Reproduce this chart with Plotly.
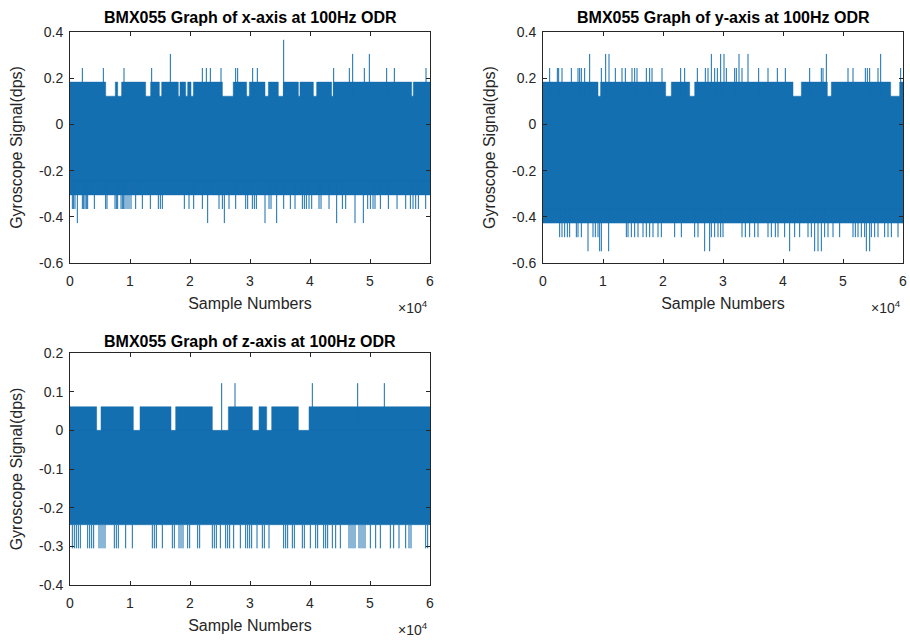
import plotly.graph_objects as go

N_SAMPLES = 60000
BLUE = "rgb(20,111,176)"
AX = "#262626"
FONT = "Liberation Sans, Arial, Helvetica, sans-serif"

titles = ["BMX055 Graph of x-axis at 100Hz ODR",
          "BMX055 Graph of y-axis at 100Hz ODR",
          "BMX055 Graph of z-axis at 100Hz ODR"]
x_label = "Sample Numbers"
y_label = "Gyroscope Signal(dps)"
x_tick_vals = [0, 10000, 20000, 30000, 40000, 50000, 60000]
x_tick_text = ["0", "1", "2", "3", "4", "5", "6"]
xy_tick_vals = [-0.6, -0.4, -0.2, 0, 0.2, 0.4]
xy_tick_text = ["-0.6", "-0.4", "-0.2", "0", "0.2", "0.4"]
z_tick_vals = [-0.4, -0.3, -0.2, -0.1, 0, 0.1, 0.2]
z_tick_text = ["-0.4", "-0.3", "-0.2", "-0.1", "0", "0.1", "0.2"]

# ---------------- x-axis gyro data (dps) ----------------
x_core = [-0.2441, 0.1221]
x_top_fringe = 0.1831
x_top_gaps = [[5950, 7550], [7950, 8600], [12610, 13440], [14890, 15280], [18050, 18330],
              [19280, 19610], [20170, 20560], [25400, 27200], [29440, 29890], [32500, 33060],
              [34720, 35550], [38060, 38330], [40560, 41110], [43610, 43900], [56940, 57220]]
x_bottom_fringe = -0.3052
x_bottom_gaps = []
x_up_0244 = [2056, 5556, 9000, 13611, 22056, 22722, 23389, 25167, 27611, 27944, 30444,
             31222, 43944, 46556, 49056, 52778, 54056, 59333]
x_up_0305 = [16722, 47111, 49889]
x_up_0366 = [35611]
x_down_0366 = [389, 611, 834, 2056, 2278, 2500, 2723, 2945, 4056, 5945, 6167, 7501, 7723,
               7945, 8501, 8723, 8945, 9168, 9501, 9835, 10168, 10945, 12056, 13390, 14723,
               15057, 15391, 19057, 19835, 20613, 22058, 24835, 25391, 26502, 27614, 29281,
               29614, 30392, 30725, 31058, 33170, 33503, 35614, 36725, 37503, 38726, 39059,
               39392, 39837, 40281, 41503, 41837, 43170, 45393, 45949, 49616, 50061, 50505,
               50839, 51728, 53061, 54506, 55950, 56728, 57172, 57617, 58061, 59283]
x_down_0427 = [1222, 22944, 25722, 32500, 34444, 44444, 47500, 48889]

# ---------------- y-axis gyro data (dps) ----------------
y_core = [-0.3662, 0.1221]
y_top_fringe = 0.1831
y_top_gaps = [[9170, 9610], [20445, 21389], [24445, 25278], [41667, 43056],
              [47390, 48056], [57945, 59445]]
y_bottom_fringe = -0.4272
y_bottom_gaps = []
y_up_0244 = [1111, 2389, 2611, 3167, 4723, 5834, 6111, 6389, 6945, 9723, 12056, 13167,
             13723, 14834, 15278, 15667, 17223, 17779, 18167, 19834, 22945, 23612, 25723,
             27056, 27500, 28612, 29056, 30556, 31945, 32223, 33167, 35945, 37501, 39056,
             40390, 44445, 46390, 46668, 50834, 51668, 53723, 54056, 54445, 55834, 59612]
y_up_0305 = [7778, 10445, 11001, 28056, 29612, 30167, 32667, 34167, 47223, 56279]
y_down_0488 = [2778, 3167, 3611, 4056, 4445, 5556, 5834, 6389, 8334, 8723, 9167, 13890,
               14167, 14723, 15278, 15834, 16667, 17223, 17779, 18334, 19167, 19723, 21945,
               23056, 25278, 25834, 28056, 28612, 29167, 29612, 30001, 33167, 33723, 34445,
               35278, 35834, 37501, 38056, 38723, 39167, 40278, 41945, 42779, 44167, 44723,
               46945, 47501, 48334, 49445, 51668, 52056, 52501, 53056, 53612, 54723, 55279,
               55834, 56945, 57501, 58056, 59168]
y_down_0549 = [7500, 9445, 9723, 10945, 26945, 27779, 41112, 45279, 45834, 46390, 53890, 54445]

# ---------------- z-axis gyro data (dps) ----------------
z_core = [-0.2441, 0.0]
z_top_fringe = 0.0610
z_top_gaps = [[4445, 5167], [10557, 11668], [16835, 17613], [23725, 26391], [30392, 31503],
              [32780, 33614], [38059, 39837]]
z_up_0122 = [25278, 27500, 40389, 47944, 52389]
z_down_0305 = [389, 722, 1056, 1389, 1722, 2945, 3278, 3611, 3945, 4834, 5167, 5500, 5834,
               7389, 7723, 8056, 9278, 10389, 13723, 14056, 14389, 15389, 17056, 17389, 18167,
               18500, 18834, 19611, 19945, 21278, 21611, 23722, 24056, 24389, 25056, 25945,
               26278, 26611, 27278, 28389, 29278, 29611, 29945, 30278, 31167, 32056, 32389,
               33167, 35611, 35945, 36278, 37056, 37389, 38723, 39056, 40056, 40945, 41278,
               42278, 42611, 42945, 43723, 44278, 45056, 46500, 46834, 47167, 47500, 48167,
               48500, 48834, 49167, 50056, 50945, 51722, 53389, 53945, 54834, 55945, 56500,
               56834, 59278, 59611]


def band_polys(lo, hi, gaps):
    segs, start = [], 1
    for g0, g1 in sorted(gaps):
        if g0 > start:
            segs.append((start, g0))
        start = max(start, g1)
    if start < N_SAMPLES:
        segs.append((start, N_SAMPLES))
    xs, ys = [], []
    for a, b in segs:
        xs += [a, b, b, a, a, None]
        ys += [lo, lo, hi, hi, lo, None]
    return xs, ys


def spike_lines(base, groups):
    xs, ys = [], []
    for positions, value in groups:
        for p in positions:
            xs += [p, p, None]
            ys += [base, value, None]
    return xs, ys


fig = go.Figure()


def add_panel(idx, core, top_fringe, top_gaps, bottom_fringe, bottom_gaps, up_groups, down_groups):
    xa = "x" if idx == 1 else f"x{idx}"
    ya = "y" if idx == 1 else f"y{idx}"
    polys_x, polys_y = band_polys(core[0], core[1], [])
    fx, fy = band_polys(core[1], top_fringe, top_gaps)
    polys_x += fx
    polys_y += fy
    if bottom_fringe is not None:
        bx, by = band_polys(bottom_fringe, core[0], bottom_gaps)
        polys_x += bx
        polys_y += by
    fig.add_trace(go.Scatter(x=polys_x, y=polys_y, mode="lines", fill="toself",
                             fillcolor=BLUE, line=dict(color=BLUE, width=0.5),
                             xaxis=xa, yaxis=ya, hoverinfo="skip", showlegend=False))
    ux, uy = spike_lines(core[1], up_groups)
    dx, dy = spike_lines(core[0], down_groups)
    fig.add_trace(go.Scatter(x=ux + dx, y=uy + dy, mode="lines",
                             line=dict(color=BLUE, width=1),
                             xaxis=xa, yaxis=ya, hoverinfo="skip", showlegend=False))


add_panel(1, x_core, x_top_fringe, x_top_gaps, x_bottom_fringe, x_bottom_gaps,
          [(x_up_0244, 0.2441), (x_up_0305, 0.3052), (x_up_0366, 0.3662)],
          [(x_down_0366, -0.3662), (x_down_0427, -0.4272)])
add_panel(2, y_core, y_top_fringe, y_top_gaps, y_bottom_fringe, y_bottom_gaps,
          [(y_up_0244, 0.2441), (y_up_0305, 0.3052)],
          [(y_down_0488, -0.4883), (y_down_0549, -0.5493)])
add_panel(3, z_core, z_top_fringe, z_top_gaps, None, [],
          [(z_up_0122, 0.1221)],
          [(z_down_0305, -0.3052)])

W, H = 910, 644
L1, R1, L2, R2 = 70, 430, 543, 903
T1, B1, T3, B3 = 32, 263, 353, 585

def px(v):
    return v / W

def py(v):
    return (H - v) / H

common = dict(showline=True, linecolor=AX, linewidth=1, mirror="ticks", ticks="inside",
              ticklen=4, tickwidth=1, tickcolor=AX, showgrid=False, zeroline=False,
              automargin=False, tickfont=dict(family=FONT, size=14, color=AX))

xcommon = dict(common, range=[0, N_SAMPLES], tickvals=x_tick_vals, ticktext=x_tick_text,
               ticklabelstandoff=5,
               title=dict(text=x_label, font=dict(family=FONT, size=16, color=AX), standoff=10))

ytitle = dict(text=y_label, font=dict(family=FONT, size=16, color=AX), standoff=12)
ycommon = dict(common, ticklabelstandoff=3, title=ytitle)

fig.update_layout(
    width=W, height=H, margin=dict(l=0, r=0, t=0, b=0, autoexpand=False),
    paper_bgcolor="white", plot_bgcolor="white",
    xaxis=dict(xcommon, domain=[px(L1), px(R1)], anchor="y"),
    xaxis2=dict(xcommon, domain=[px(L2), px(R2)], anchor="y2"),
    xaxis3=dict(xcommon, domain=[px(L1), px(R1)], anchor="y3"),
    yaxis=dict(ycommon, domain=[py(B1), py(T1)], anchor="x", range=[-0.6, 0.4],
               tickvals=xy_tick_vals, ticktext=xy_tick_text),
    yaxis2=dict(ycommon, domain=[py(B1), py(T1)], anchor="x2", range=[-0.6, 0.4],
                tickvals=xy_tick_vals, ticktext=xy_tick_text),
    yaxis3=dict(ycommon, domain=[py(B3), py(T3)], anchor="x3", range=[-0.4, 0.2],
                tickvals=z_tick_vals, ticktext=z_tick_text),
)

annos = []
for (cx, ty, t) in [((L1 + R1) / 2, 17, titles[0]), ((L2 + R2) / 2, 17, titles[1]),
                    ((L1 + R1) / 2, 341, titles[2])]:
    annos.append(dict(text=f"<b>{t}</b>", x=px(cx), y=py(ty), xref="paper", yref="paper",
                      xanchor="center", yanchor="middle", showarrow=False,
                      font=dict(family=FONT, size=16, color="black")))
for (rx, yy) in [(R1, 307), (R2, 307), (R1, 629)]:
    annos.append(dict(text="×10<sup>4</sup>", x=px(rx), y=py(yy), xref="paper", yref="paper",
                      xanchor="right", yanchor="middle", showarrow=False,
                      font=dict(family=FONT, size=14, color=AX)))
fig.update_layout(annotations=annos)

fig.write_html("out.html", config=dict(displayModeBar=False),
               post_script="document.body.style.margin='0';document.body.style.padding='0';")
